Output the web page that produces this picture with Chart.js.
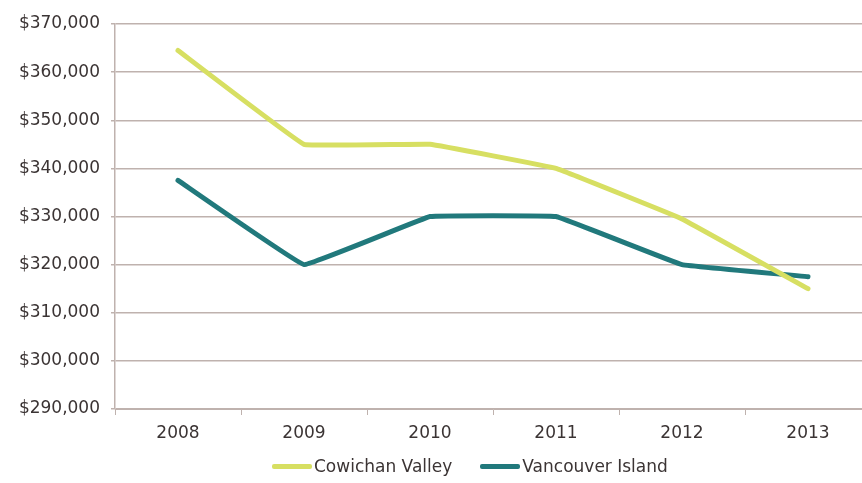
<!DOCTYPE html>
<html>
<head>
<meta charset="utf-8">
<script src="https://cdn.jsdelivr.net/npm/chart.js@4.4.1/dist/chart.umd.min.js"></script>
<style>
  html, body { margin: 0; padding: 0; background: #fff; overflow: hidden; }
  .wrap { position: relative; width: 880px; height: 483px; }
  #priceChart { display: block; }
  .legend {
    position: absolute; left: 272px; top: 456px;
    display: flex; align-items: center;
    font-family: "DejaVu Sans", sans-serif; font-size: 17px; color: #3b3434;
  }
  .legend-item { display: flex; align-items: center; margin-right: 28px; }
  .legend-swatch { width: 40px; height: 5px; border-radius: 2px; margin-right: 2px; }
</style>
</head>
<body>
<div class="wrap">
  <canvas id="priceChart" width="880" height="483"></canvas>
  <div class="legend" id="legend"></div>
</div>
<script>
(function() {
  'use strict';

  // Average house price, 2008-2013
  const years = ['2008', '2009', '2010', '2011', '2012', '2013'];
  const cowichanValley = [364500, 345000, 345000, 340000, 329500, 315000];
  const vancouverIsland = [337500, 320000, 330000, 330000, 320000, 317500];

  const seriesNames = ['Cowichan Valley', 'Vancouver Island'];
  const seriesColors = ['#d7df62', '#21797c'];

  const yMin = 290000;
  const yMax = 370000;
  const yStep = 10000;

  const fontFamily = '"DejaVu Sans", sans-serif';
  const textColor = '#3b3434';
  const gridColor = '#bfb2ae';

  const datasets = [cowichanValley, vancouverIsland].map(function(values, i) {
    return {
      label: seriesNames[i],
      data: values,
      borderColor: seriesColors[i],
      backgroundColor: seriesColors[i],
      borderWidth: 5,
      borderJoinStyle: 'round',
      borderCapStyle: 'round',
      tension: 0.05,
      pointRadius: 0,
      fill: false
    };
  });

  const chart = new Chart(document.getElementById('priceChart'), {
    type: 'line',
    data: { labels: years, datasets: datasets },
    options: {
      responsive: false,
      animation: false,
      layout: { padding: { top: 24, right: 9, bottom: 44, left: 0 } },
      plugins: {
        legend: { display: false },
        tooltip: { enabled: false }
      },
      scales: {
        x: {
          offset: true,
          afterFit: function(scale) { scale.height = 30; },
          grid: {
            drawOnChartArea: false,
            drawTicks: true,
            tickLength: 6,
            color: gridColor,
            offset: true
          },
          border: { display: true, color: gridColor, width: 1 },
          ticks: {
            padding: 8,
            color: textColor,
            font: { family: fontFamily, size: 17 }
          }
        },
        y: {
          min: yMin,
          max: yMax,
          afterFit: function(scale) { scale.width = 115; },
          grid: {
            color: gridColor,
            lineWidth: 1.5,
            tickLength: 4
          },
          border: { display: true, color: gridColor, width: 1.5 },
          ticks: {
            stepSize: yStep,
            padding: 11,
            color: textColor,
            font: { family: fontFamily, size: 17 },
            callback: function(v) { return '$' + v.toLocaleString('en-US'); }
          }
        }
      }
    }
  });

  // Legend built from the chart's own datasets
  const legendEl = document.getElementById('legend');
  chart.data.datasets.forEach(function(ds) {
    const item = document.createElement('div');
    item.className = 'legend-item';
    const swatch = document.createElement('span');
    swatch.className = 'legend-swatch';
    swatch.style.background = ds.borderColor;
    const label = document.createElement('span');
    label.textContent = ds.label;
    item.appendChild(swatch);
    item.appendChild(label);
    legendEl.appendChild(item);
  });

})();
</script>
</body>
</html>
